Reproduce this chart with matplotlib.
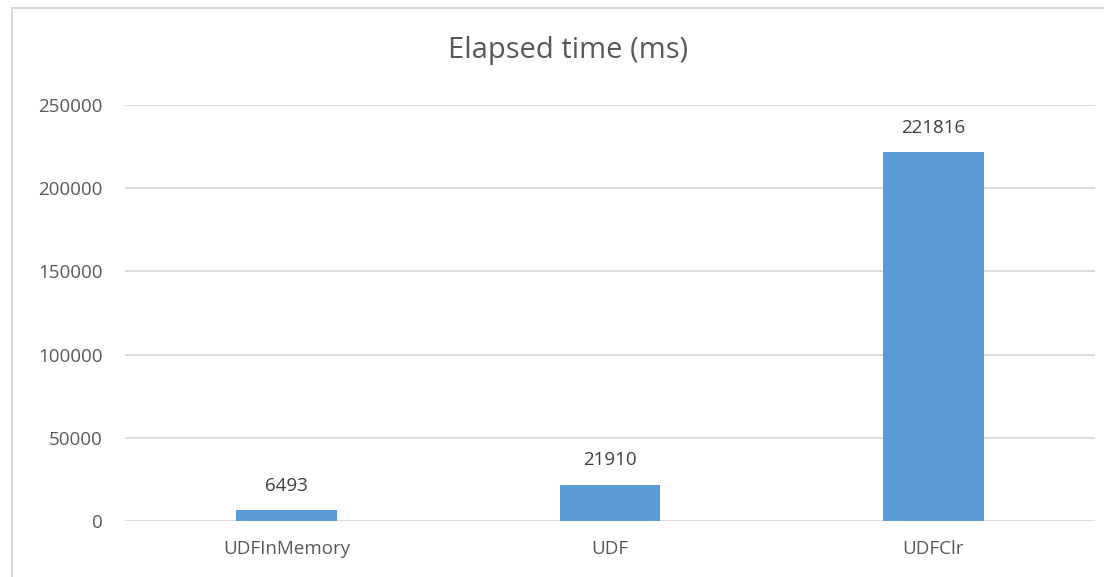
import matplotlib
matplotlib.use("Agg")
import matplotlib.pyplot as plt
from matplotlib.patches import Rectangle

categories = ["UDFInMemory", "UDF", "UDFClr"]
elapsed_ms = [6493, 21910, 221816]
y_ticks = [0, 50000, 100000, 150000, 200000, 250000]

BAR_COLOR = "#5B9BD5"
GRID_COLOR = "#D9D9D9"
TEXT_COLOR = "#595959"

plt.rcParams["font.family"] = ["Open Sans", "DejaVu Sans"]

fig = plt.figure(figsize=(11.04, 5.77), dpi=100)
ax = fig.add_axes([0.113, 0.097, 0.879, 0.721])

# chart area border (Excel style), cut off on right/bottom like the source
fig.patches.append(Rectangle((12 / 1104, -0.1), 1.2, 1 - 8 / 577 + 0.1,
                             transform=fig.transFigure, fill=False,
                             edgecolor=GRID_COLOR, linewidth=1.5))

x = range(len(categories))
bars = ax.bar(x, elapsed_ms, width=0.31, color=BAR_COLOR, zorder=3)
for b, v in zip(bars, elapsed_ms):
    ax.annotate(str(v), (b.get_x() + b.get_width() / 2, v), xytext=(0, 11),
                textcoords="offset points", ha="center", va="bottom",
                fontsize=13.5, color="#404040")

ax.set_xlim(-0.5, 2.5)
ax.set_ylim(0, 250000)
ax.set_yticks(y_ticks)
ax.set_yticklabels([str(t) for t in y_ticks])
ax.set_xticks(list(x))
ax.set_xticklabels(categories)
ax.tick_params(axis="both", length=0, labelsize=13.5, labelcolor=TEXT_COLOR)
ax.tick_params(axis="y", pad=16)
ax.tick_params(axis="x", pad=14)
ax.grid(axis="y", color=GRID_COLOR, linewidth=1.3, zorder=0)
for s in ax.spines.values():
    s.set_visible(False)

fig.text(0.515, 0.912, "Elapsed time (ms)", ha="center", va="center",
         fontsize=21, color=TEXT_COLOR)

fig.savefig("out.png", dpi=100)
